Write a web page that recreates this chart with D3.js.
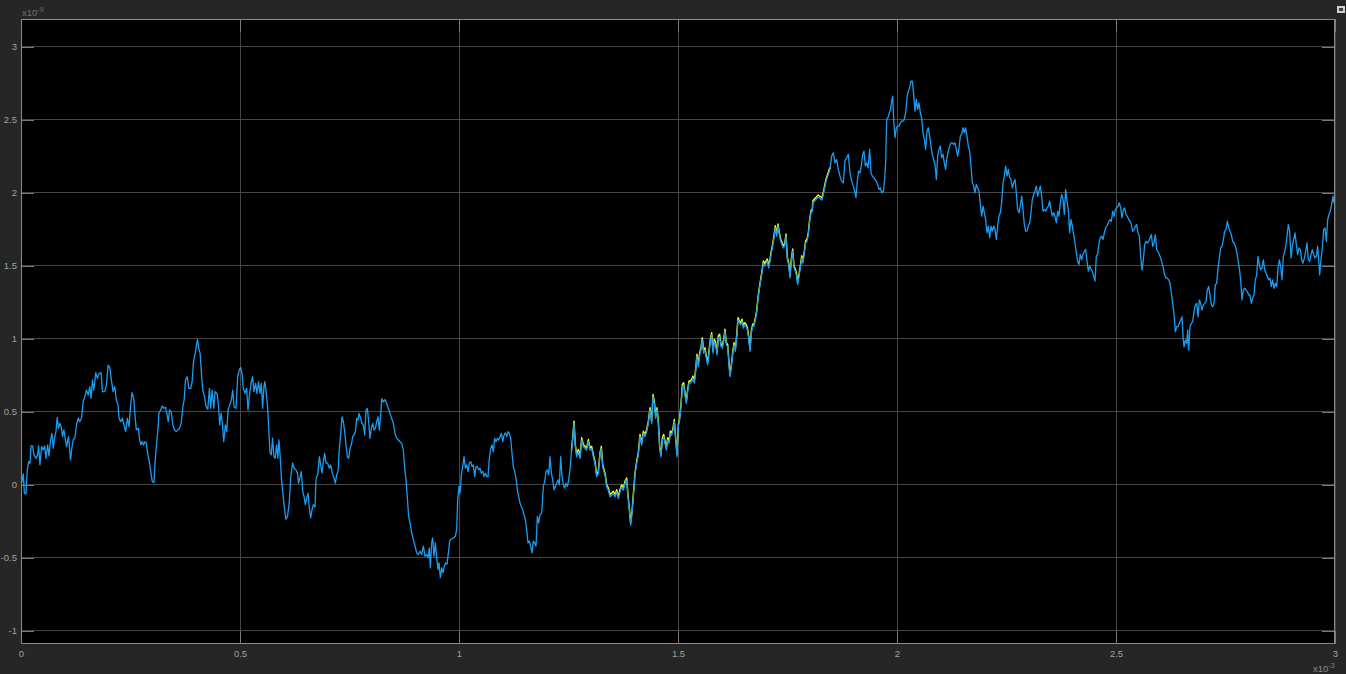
<!DOCTYPE html>
<html><head><meta charset="utf-8">
<script src="https://cdn.jsdelivr.net/npm/d3@7"></script>
<style>html,body{margin:0;padding:0;background:#262626;overflow:hidden}svg{display:block}</style>
</head><body><svg id="c" width="1346" height="674"></svg>
<script>
// time in units of 1e-3, value in units of 1e-9
const xTicks = [0, 0.5, 1, 1.5, 2, 2.5, 3];
const xTickLabels = ["0", "0.5", "1", "1.5", "2", "2.5", "3"];
const yTicks = [-1, -0.5, 0, 0.5, 1, 1.5, 2, 2.5, 3];
const yTickLabels = ["-1", "-0.5", "0", "0.5", "1", "1.5", "2", "2.5", "3"];
const xExponent = "-3";
const yExponent = "-9";

const blueSeries = [
[0,0.03],[0.0015,0.011],[0.0053,0.075],[0.0076,-0.057],[0.0114,-0.062],[0.0144,0.103],[0.0175,0.159],[0.0205,0.148],[0.0228,0.267],[0.0266,0.267],[0.0296,0.205],[0.0341,0.182],[0.0379,0.205],[0.0402,0.267],[0.0432,0.137],[0.0470,0.262],[0.0508,0.239],[0.0539,0.267],[0.0569,0.182],[0.0607,0.273],[0.0637,0.198],[0.0675,0.308],[0.0706,0.353],[0.0736,0.251],[0.0766,0.319],[0.0797,0.364],[0.0827,0.462],[0.0857,0.387],[0.0888,0.421],[0.0918,0.399],[0.0948,0.330],[0.0979,0.376],[0.1009,0.319],[0.1039,0.262],[0.1085,0.330],[0.1131,0.171],[0.1161,0.251],[0.1191,0.308],[0.1229,0.319],[0.1267,0.410],[0.1305,0.456],[0.1343,0.433],[0.1381,0.456],[0.1419,0.569],[0.1457,0.604],[0.1495,0.649],[0.1533,0.615],[0.1571,0.672],[0.1601,0.592],[0.1631,0.718],[0.1662,0.649],[0.1707,0.768],[0.1745,0.729],[0.1783,0.763],[0.1829,0.768],[0.1859,0.638],[0.1912,0.638],[0.1950,0.683],[0.1988,0.820],[0.2026,0.804],[0.2064,0.718],[0.2102,0.638],[0.2140,0.672],[0.2178,0.581],[0.2215,0.547],[0.2238,0.456],[0.2276,0.433],[0.2314,0.456],[0.2352,0.410],[0.2390,0.364],[0.2428,0.456],[0.2466,0.399],[0.2504,0.547],[0.2534,0.631],[0.2572,0.592],[0.2602,0.478],[0.2633,0.376],[0.2678,0.387],[0.2709,0.308],[0.2739,0.273],[0.2769,0.296],[0.2800,0.273],[0.2830,0.296],[0.2860,0.285],[0.2898,0.205],[0.2936,0.148],[0.2967,0.080],[0.2997,0.023],[0.3035,0.016],[0.3065,0.171],[0.3096,0.285],[0.3126,0.376],[0.3149,0.490],[0.3187,0.513],[0.3225,0.540],[0.3263,0.524],[0.3301,0.531],[0.3331,0.490],[0.3361,0.433],[0.3392,0.513],[0.3429,0.501],[0.3467,0.410],[0.3505,0.376],[0.3543,0.364],[0.3581,0.376],[0.3619,0.387],[0.3657,0.421],[0.3695,0.535],[0.3725,0.581],[0.3756,0.718],[0.3794,0.740],[0.3832,0.661],[0.3877,0.661],[0.3907,0.706],[0.3938,0.843],[0.3976,0.900],[0.4014,0.968],[0.4029,0.995],[0.4059,0.934],[0.4090,0.900],[0.4120,0.763],[0.4150,0.649],[0.4188,0.604],[0.4226,0.535],[0.4264,0.517],[0.4302,0.661],[0.4332,0.524],[0.4363,0.649],[0.4401,0.524],[0.4431,0.638],[0.4477,0.626],[0.4507,0.547],[0.4537,0.410],[0.4568,0.490],[0.4598,0.421],[0.4628,0.296],[0.4666,0.410],[0.4697,0.364],[0.4727,0.513],[0.4765,0.547],[0.4803,0.581],[0.4833,0.649],[0.4863,0.535],[0.4909,0.524],[0.4947,0.740],[0.4985,0.786],[0.5015,0.804],[0.5046,0.763],[0.5076,0.661],[0.5114,0.626],[0.5152,0.661],[0.5182,0.513],[0.5213,0.604],[0.5250,0.695],[0.5288,0.740],[0.5319,0.638],[0.5357,0.695],[0.5387,0.626],[0.5425,0.706],[0.5455,0.626],[0.5486,0.695],[0.5516,0.524],[0.5546,0.672],[0.5569,0.706],[0.5599,0.626],[0.5630,0.535],[0.5653,0.399],[0.5683,0.228],[0.5713,0.205],[0.5744,0.319],[0.5774,0.194],[0.5804,0.182],[0.5835,0.273],[0.5865,0.182],[0.5888,0.308],[0.5918,0.194],[0.5948,0.034],[0.5979,-0.057],[0.6009,-0.148],[0.6047,-0.235],[0.6085,-0.216],[0.6123,-0.125],[0.6161,0.057],[0.6199,0.148],[0.6237,0.114],[0.6275,0.103],[0.6313,0.080],[0.6335,0.011],
[0.6401,0.091],[0.6431,-0.045],[0.6462,-0.080],[0.6492,-0.136],[0.6522,-0.091],[0.6553,-0.057],[0.6583,-0.159],[0.6614,-0.227],[0.6644,-0.170],[0.6675,-0.136],[0.6713,-0.152],[0.6736,0.045],[0.6774,0.068],[0.6812,0.193],[0.6842,0.136],[0.6873,0.080],[0.6903,0.159],[0.6933,0.216],[0.6964,0.148],[0.7002,0.148],[0.7040,0.114],[0.7070,0.136],[0.7108,0.080],[0.7147,0.045],[0.7177,0.011],[0.7207,0.068],[0.7238,0.091],[0.7268,0.250],[0.7299,0.352],[0.7329,0.466],[0.7360,0.432],[0.7390,0.364],[0.7420,0.273],[0.7451,0.193],[0.7481,0.182],[0.7512,0.250],[0.7542,0.273],[0.7573,0.330],[0.7603,0.341],[0.7634,0.364],[0.7664,0.455],[0.7694,0.443],[0.7717,0.489],[0.7755,0.455],[0.7786,0.420],[0.7816,0.409],[0.7847,0.341],[0.7877,0.511],[0.7908,0.523],[0.7938,0.432],[0.7968,0.318],[0.7999,0.386],[0.8029,0.420],[0.8060,0.375],[0.8090,0.386],[0.8121,0.432],[0.8151,0.466],[0.8181,0.375],[0.8212,0.477],[0.8235,0.591],[0.8273,0.568],[0.8311,0.584],[0.8349,0.557],[0.8387,0.523],[0.8425,0.489],[0.8463,0.455],[0.8501,0.420],[0.8539,0.352],[0.8577,0.318],[0.8615,0.307],[0.8653,0.295],[0.8691,0.284],[0.8729,0.239],[0.8760,0.114],[0.8790,0.034],[0.8821,-0.091],[0.8851,-0.216],[0.8882,-0.261],[0.8920,-0.330],[0.8958,-0.375],[0.8996,-0.420],[0.9034,-0.466],[0.9072,-0.477],[0.9110,-0.455],[0.9148,-0.477],[0.9186,-0.420],[0.9224,-0.489],[0.9262,-0.477],[0.9293,-0.500],[0.9323,-0.432],[0.9346,-0.568],[0.9376,-0.398],[0.9399,-0.364],[0.9430,-0.489],[0.9460,-0.398],[0.9491,-0.500],[0.9521,-0.580],[0.9544,-0.534],[0.9574,-0.636],[0.9605,-0.568],[0.9635,-0.602],[0.9666,-0.557],[0.9696,-0.534],[0.9726,-0.545],[0.9757,-0.466],[0.9787,-0.386],[0.9825,-0.370],[0.9871,-0.364],[0.9917,-0.352],[0.9947,-0.307],[0.9970,-0.102],[1.0000,-0.011],[1.0023,-0.057],[1.0054,0.068],[1.0084,0.125],[1.0115,0.193],[1.0145,0.114],[1.0175,0.136],[1.0206,0.091],[1.0236,0.148],[1.0267,0.159],[1.0297,0.125],[1.0328,0.136],[1.0358,0.057],[1.0388,0.125],[1.0419,0.125],[1.0449,0.102],[1.0480,0.114],[1.0510,0.080],[1.0541,0.091],[1.0571,0.057],[1.0602,0.080],[1.0632,0.057],[1.0662,0.057],[1.0693,0.182],[1.0723,0.250],[1.0754,0.273],[1.0784,0.227],[1.0815,0.318],[1.0845,0.295],[1.0875,0.318],[1.0906,0.307],[1.0936,0.330],[1.0967,0.352],[1.0997,0.295],[1.1028,0.341],[1.1058,0.357],[1.1089,0.330],[1.1119,0.364],[1.1149,0.352],[1.1180,0.318],[1.1210,0.216],[1.1241,0.125],[1.1271,0.091],[1.1302,0.045],[1.1332,-0.034],[1.1362,-0.080],[1.1393,-0.125],[1.1423,-0.148],[1.1454,-0.170],[1.1484,-0.205],[1.1515,-0.239],[1.1545,-0.307],[1.1576,-0.398],[1.1606,-0.386],[1.1636,-0.420],[1.1667,-0.466],[1.1697,-0.386],[1.1728,-0.398],[1.1758,-0.420],[1.1789,-0.216],[1.1819,-0.261],[1.1850,-0.205],[1.1888,-0.193],[1.1926,-0.011],[1.1956,0.023],[1.1987,0.091],[1.2017,0.102],[1.2048,0.068],[1.2078,0.193],[1.2109,0.080],[1.2139,0.034],[1.2169,-0.034],[1.2200,-0.011],[1.2230,0.011],[1.2261,0.034],[1.2291,0.000],[1.2322,0.193],[1.2352,0.057],[1.2382,0.000],[1.2413,-0.023],[1.2443,0.011],[1.2474,-0.011],[1.2504,0.034],[1.2535,0.102],
[1.2565,0.215],[1.2595,0.307],[1.2626,0.421],[1.2656,0.261],[1.2687,0.192],[1.2725,0.227],[1.2763,0.181],[1.2801,0.307],[1.2839,0.261],[1.2877,0.249],[1.2915,0.238],[1.2953,0.295],[1.2991,0.238],[1.3029,0.249],[1.3067,0.192],[1.3105,0.146],[1.3143,0.055],[1.3181,0.078],[1.3219,0.204],[1.3250,0.249],[1.3280,0.124],[1.3311,0.089],[1.3341,0.055],[1.3372,-0.014],[1.3410,-0.037],[1.3448,-0.082],[1.3486,-0.071],[1.3524,-0.059],[1.3562,-0.082],[1.3600,-0.048],[1.3638,-0.094],[1.3676,-0.048],[1.3714,-0.014],[1.3752,-0.037],[1.3790,0.009],[1.3828,0.032],[1.3858,-0.082],[1.3889,-0.174],[1.3919,-0.277],[1.3950,-0.197],[1.3980,-0.082],[1.4018,0.066],[1.4056,0.146],[1.4094,0.204],[1.4132,0.330],[1.4170,0.272],[1.4208,0.352],[1.4247,0.330],[1.4285,0.364],[1.4323,0.421],[1.4361,0.513],[1.4399,0.421],[1.4429,0.604],[1.4460,0.558],[1.4490,0.455],[1.4521,0.513],[1.4551,0.421],[1.4582,0.249],[1.4612,0.192],[1.4642,0.307],[1.4673,0.330],[1.4703,0.284],[1.4734,0.238],[1.4764,0.307],[1.4795,0.284],[1.4825,0.352],[1.4855,0.341],[1.4886,0.375],[1.4916,0.432],[1.4947,0.307],[1.4977,0.192],[1.5008,0.398],[1.5038,0.444],[1.5068,0.535],[1.5099,0.673],[1.5129,0.684],[1.5160,0.616],[1.5190,0.558],[1.5221,0.638],[1.5251,0.696],[1.5282,0.696],[1.5312,0.707],[1.5342,0.730],[1.5373,0.696],[1.5403,0.776],[1.5434,0.879],[1.5464,0.810],[1.5495,0.890],[1.5525,0.924],[1.5555,0.993],[1.5586,0.902],[1.5616,0.924],[1.5647,0.867],[1.5677,0.822],[1.5708,0.902],[1.5738,0.982],[1.5769,1.027],[1.5799,0.902],[1.5829,0.982],[1.5860,0.959],[1.5890,0.890],[1.5921,1.005],[1.5951,1.016],[1.5982,0.947],[1.6012,0.936],[1.6043,0.982],[1.6073,1.050],[1.6103,0.959],[1.6134,0.947],[1.6164,0.822],[1.6187,0.741],[1.6218,0.810],[1.6248,0.890],[1.6279,0.959],[1.6309,0.913],[1.6339,1.005],[1.6370,1.130],[1.6400,1.108],[1.6431,1.096],[1.6461,1.119],[1.6492,1.073],[1.6522,1.096],[1.6553,1.085],[1.6583,1.062],[1.6613,1.005],[1.6644,0.913],[1.6674,1.039],[1.6705,1.085],[1.6735,1.085],[1.6766,1.130],[1.6796,1.176],[1.6826,1.268],[1.6857,1.336],[1.6887,1.394],[1.6918,1.451],[1.6948,1.519],[1.6979,1.497],[1.7009,1.519],[1.7040,1.531],[1.7070,1.485],[1.7100,1.531],[1.7131,1.588],[1.7161,1.634],[1.7192,1.691],[1.7222,1.760],[1.7253,1.703],[1.7283,1.771],[1.7313,1.714],[1.7344,1.668],[1.7374,1.645],[1.7405,1.622],[1.7435,1.634],[1.7466,1.703],[1.7496,1.542],[1.7527,1.508],[1.7557,1.416],[1.7587,1.531],[1.7618,1.600],[1.7648,1.485],[1.7679,1.462],[1.7709,1.428],[1.7732,1.371],[1.7763,1.428],[1.7793,1.485],[1.7824,1.554],[1.7854,1.519],[1.7885,1.588],[1.7915,1.657],[1.7945,1.668],[1.7976,1.714],[1.8006,1.805],[1.8037,1.863],[1.8067,1.874],[1.8080,1.930],[1.8200,1.970],[1.8290,1.950],[1.8380,2.080],
[1.8470,2.160],[1.8508,2.251],[1.8546,2.274],[1.8584,2.205],[1.8622,2.228],[1.8660,2.160],[1.8698,2.114],[1.8736,2.080],[1.8774,2.068],[1.8812,2.217],[1.8851,2.240],[1.8889,2.263],[1.8927,2.137],[1.8965,2.080],[1.9003,2.046],[1.9041,2.000],[1.9064,1.966],[1.9094,2.080],[1.9124,2.148],[1.9155,2.137],[1.9185,2.183],[1.9216,2.263],[1.9246,2.285],[1.9277,2.183],[1.9307,2.205],[1.9338,2.171],[1.9376,2.297],[1.9406,2.137],[1.9437,2.114],[1.9467,2.103],[1.9497,2.091],[1.9528,2.080],[1.9558,2.057],[1.9589,2.023],[1.9619,2.034],[1.9650,2.000],[1.9688,2.011],[1.9718,2.091],[1.9741,2.205],[1.9764,2.502],[1.9794,2.514],[1.9825,2.548],[1.9855,2.571],[1.9878,2.628],[1.9901,2.662],[1.9924,2.502],[1.9954,2.377],[1.9985,2.445],[2.0015,2.457],[2.0046,2.457],[2.0076,2.479],[2.0106,2.491],[2.0137,2.491],[2.0167,2.502],[2.0198,2.548],[2.0228,2.651],[2.0259,2.696],[2.0289,2.719],[2.0319,2.765],[2.0350,2.765],[2.0380,2.674],[2.0411,2.559],[2.0441,2.639],[2.0472,2.571],[2.0502,2.616],[2.0532,2.548],[2.0563,2.514],[2.0593,2.411],[2.0624,2.365],[2.0654,2.297],[2.0685,2.422],[2.0715,2.445],[2.0746,2.388],[2.0776,2.320],[2.0806,2.263],[2.0837,2.228],[2.0867,2.194],[2.0898,2.091],[2.0928,2.251],[2.0959,2.297],[2.0989,2.320],[2.1019,2.240],[2.1050,2.263],[2.1080,2.205],[2.1111,2.160],[2.1141,2.240],[2.1172,2.285],[2.1202,2.320],[2.1233,2.342],[2.1263,2.342],[2.1293,2.331],[2.1324,2.342],[2.1354,2.297],[2.1385,2.251],[2.1415,2.308],[2.1446,2.388],[2.1476,2.400],[2.1507,2.445],[2.1537,2.411],[2.1567,2.445],[2.1598,2.388],[2.1628,2.320],[2.1659,2.285],[2.1689,2.183],[2.1720,2.068],[2.1750,2.046],[2.1781,2.000],[2.1811,2.057],[2.1841,2.034],[2.1872,2.011],[2.1902,1.920],[2.1933,1.840],[2.1963,1.909],[2.1994,1.863],[2.2024,1.817],[2.2055,1.726],[2.2085,1.772],[2.2115,1.692],[2.2146,1.772],[2.2176,1.737],[2.2207,1.772],[2.2237,1.749],[2.2268,1.680],[2.2298,1.772],[2.2328,1.840],[2.2359,1.863],[2.2389,1.932],[2.2420,2.068],[2.2450,2.114],[2.2481,2.183],[2.2511,2.114],[2.2542,2.160],[2.2572,2.103],[2.2602,2.091],[2.2633,2.034],[2.2663,2.068],[2.2694,2.091],[2.2724,2.000],[2.2755,1.886],[2.2785,1.863],[2.2815,1.909],[2.2846,1.977],[2.2876,1.886],[2.2907,1.783],[2.2937,1.737],[2.2968,1.737],[2.2998,1.772],[2.3029,1.795],[2.3059,1.863],[2.3089,1.954],[2.3120,1.989],[2.3150,2.011],[2.3181,2.046],[2.3211,1.977],[2.3242,2.011],[2.3272,2.046],[2.3303,1.977],[2.3333,1.874],[2.3363,1.886],[2.3394,1.874],[2.3424,1.897],[2.3455,1.909],[2.3485,1.943],[2.3516,1.886],[2.3546,1.840],[2.3577,1.863],[2.3607,1.840],[2.3637,1.795],[2.3668,1.874],[2.3698,1.840],[2.3729,1.932],[2.3759,1.989],[2.3790,1.954],[2.3820,1.852],[2.3850,2.023],[2.3881,1.943],[2.3911,1.886],[2.3942,1.726],[2.3972,1.817],[2.4003,1.772],[2.4033,1.715],[2.4064,1.658],[2.4094,1.589],[2.4124,1.532],[2.4155,1.509],[2.4185,1.578],[2.4216,1.543],[2.4246,1.578],[2.4277,1.600],[2.4307,1.612],[2.4338,1.532],[2.4368,1.463],[2.4398,1.498],[2.4429,1.475],[2.4459,1.463],[2.4490,1.429],[2.4520,1.395],[2.4551,1.566],[2.4581,1.578],[2.4612,1.658],[2.4642,1.692],[2.4672,1.703],[2.4703,1.680],[2.4733,1.726],[2.4764,1.760],[2.4794,1.772],[2.4825,1.795],[2.4863,1.817],
[2.4894,1.805],[2.4924,1.874],[2.4955,1.839],[2.4985,1.885],[2.5015,1.897],[2.5046,1.908],[2.5076,1.931],[2.5107,1.897],[2.5137,1.828],[2.5168,1.885],[2.5198,1.897],[2.5229,1.851],[2.5259,1.839],[2.5289,1.817],[2.5320,1.805],[2.5350,1.782],[2.5381,1.736],[2.5411,1.748],[2.5442,1.771],[2.5472,1.782],[2.5503,1.725],[2.5533,1.702],[2.5563,1.564],[2.5594,1.472],[2.5624,1.541],[2.5655,1.644],[2.5685,1.667],[2.5716,1.656],[2.5746,1.667],[2.5777,1.690],[2.5807,1.713],[2.5837,1.633],[2.5868,1.656],[2.5898,1.713],[2.5929,1.610],[2.5959,1.599],[2.5990,1.576],[2.6020,1.553],[2.6051,1.518],[2.6081,1.484],[2.6111,1.438],[2.6142,1.415],[2.6172,1.415],[2.6203,1.404],[2.6233,1.381],[2.6264,1.312],[2.6294,1.243],[2.6324,1.174],[2.6355,1.048],[2.6385,1.083],[2.6416,1.083],[2.6446,1.106],[2.6477,1.128],[2.6507,1.151],[2.6530,1.014],[2.6553,0.945],[2.6583,0.991],[2.6614,0.968],[2.6637,1.060],[2.6659,0.922],[2.6690,1.083],[2.6720,1.106],[2.6751,1.117],[2.6781,1.186],[2.6811,1.232],[2.6842,1.243],[2.6872,1.151],[2.6903,1.266],[2.6933,1.243],[2.6964,1.197],[2.6994,1.232],[2.7025,1.243],[2.7055,1.255],[2.7085,1.335],[2.7116,1.358],[2.7146,1.300],[2.7177,1.232],[2.7207,1.220],[2.7238,1.243],[2.7268,1.369],[2.7299,1.381],[2.7329,1.484],[2.7359,1.553],[2.7390,1.622],[2.7420,1.633],[2.7451,1.679],[2.7481,1.736],[2.7511,1.748],[2.7542,1.805],[2.7572,1.759],[2.7603,1.736],[2.7633,1.713],[2.7664,1.667],[2.7694,1.656],[2.7725,1.633],[2.7755,1.599],[2.7785,1.541],[2.7816,1.484],[2.7846,1.404],[2.7877,1.266],[2.7907,1.335],[2.7938,1.346],[2.7968,1.335],[2.7999,1.323],[2.8029,1.300],[2.8059,1.300],[2.8090,1.243],[2.8120,1.278],[2.8151,1.300],[2.8181,1.404],[2.8212,1.438],[2.8242,1.564],[2.8272,1.507],[2.8303,1.472],[2.8333,1.484],[2.8364,1.541],[2.8394,1.472],[2.8425,1.450],[2.8455,1.427],[2.8486,1.404],[2.8516,1.415],[2.8546,1.358],[2.8577,1.404],[2.8607,1.346],[2.8638,1.381],[2.8668,1.358],[2.8699,1.484],[2.8729,1.541],[2.8760,1.495],[2.8790,1.404],[2.8820,1.564],[2.8851,1.599],[2.8881,1.644],[2.8912,1.725],[2.8935,1.782],[2.8965,1.736],[2.8996,1.553],[2.9026,1.633],[2.9056,1.679],[2.9087,1.725],[2.9117,1.644],[2.9148,1.576],[2.9178,1.622],[2.9209,1.610],[2.9239,1.541],[2.9269,1.518],[2.9300,1.553],[2.9330,1.599],[2.9361,1.656],[2.9391,1.541],[2.9422,1.530],[2.9452,1.576],[2.9483,1.610],[2.9513,1.576],[2.9543,1.553],[2.9574,1.564],[2.9604,1.633],[2.9635,1.507],[2.9650,1.438],[2.9680,1.541],[2.9711,1.622],[2.9741,1.748],[2.9772,1.759],[2.9802,1.667],[2.9833,1.817],[2.9863,1.851],[2.9893,1.874],[2.9924,1.920],[2.9954,1.977],[2.9977,1.931],[3.0,1.950]
];

const yellowSeries = [
[1.2565,0.230],[1.2595,0.322],[1.2626,0.436],[1.2656,0.276],[1.2687,0.207],[1.2725,0.242],[1.2763,0.196],[1.2801,0.322],[1.2839,0.276],[1.2877,0.264],[1.2915,0.253],[1.2953,0.310],[1.2991,0.253],[1.3029,0.264],[1.3067,0.207],[1.3105,0.161],[1.3143,0.070],[1.3181,0.093],[1.3219,0.219],[1.3250,0.264],[1.3280,0.139],[1.3311,0.104],[1.3341,0.070],[1.3372,0.001],[1.3410,-0.022],[1.3448,-0.067],[1.3486,-0.056],[1.3524,-0.044],[1.3562,-0.067],[1.3600,-0.033],[1.3638,-0.079],[1.3676,-0.033],[1.3714,0.001],[1.3752,-0.022],[1.3790,0.024],[1.3828,0.047],[1.3858,-0.067],[1.3889,-0.159],[1.3919,-0.262],[1.3950,-0.182],[1.3980,-0.067],[1.4018,0.081],[1.4056,0.161],[1.4094,0.219],[1.4132,0.345],[1.4170,0.287],[1.4208,0.367],[1.4247,0.345],[1.4285,0.379],[1.4323,0.436],[1.4361,0.528],[1.4399,0.436],[1.4429,0.619],[1.4460,0.573],[1.4490,0.470],[1.4521,0.528],[1.4551,0.436],[1.4582,0.264],[1.4612,0.207],[1.4642,0.322],[1.4673,0.345],[1.4703,0.299],[1.4734,0.253],[1.4764,0.322],[1.4795,0.299],[1.4825,0.367],[1.4855,0.356],[1.4886,0.390],[1.4916,0.447],[1.4947,0.322],[1.4977,0.207],[1.5008,0.413],[1.5038,0.459],[1.5068,0.550],[1.5099,0.688],[1.5129,0.699],[1.5160,0.631],[1.5190,0.573],[1.5221,0.653],[1.5251,0.711],[1.5282,0.711],[1.5312,0.722],[1.5342,0.745],[1.5373,0.711],[1.5403,0.791],[1.5434,0.894],[1.5464,0.825],[1.5495,0.905],[1.5525,0.939],[1.5555,1.008],[1.5586,0.917],[1.5616,0.939],[1.5647,0.882],[1.5677,0.837],[1.5708,0.917],[1.5738,0.997],[1.5769,1.042],[1.5799,0.917],[1.5829,0.997],[1.5860,0.974],[1.5890,0.905],[1.5921,1.020],[1.5951,1.031],[1.5982,0.962],[1.6012,0.951],[1.6043,0.997],[1.6073,1.065],[1.6103,0.974],[1.6134,0.962],[1.6164,0.837],[1.6187,0.756],[1.6218,0.825],[1.6248,0.905],[1.6279,0.974],[1.6309,0.928],[1.6339,1.020],[1.6370,1.145],[1.6400,1.123],[1.6431,1.111],[1.6461,1.134],[1.6492,1.088],[1.6522,1.111],[1.6553,1.100],[1.6583,1.077],[1.6613,1.020],[1.6644,0.928],[1.6674,1.054],[1.6705,1.100],[1.6735,1.100],[1.6766,1.145],[1.6796,1.191],[1.6826,1.283],[1.6857,1.351],[1.6887,1.409],[1.6918,1.466],[1.6948,1.534],[1.6979,1.512],[1.7009,1.534],[1.7040,1.546],[1.7070,1.500],[1.7100,1.546],[1.7131,1.603],[1.7161,1.649],[1.7192,1.706],[1.7222,1.775],[1.7253,1.718],[1.7283,1.786],[1.7313,1.729],[1.7344,1.683],[1.7374,1.660],[1.7405,1.637],[1.7435,1.649],[1.7466,1.718],[1.7496,1.557],[1.7527,1.523],[1.7557,1.431],[1.7587,1.546],[1.7618,1.615],[1.7648,1.500],[1.7679,1.477],[1.7709,1.443],[1.7732,1.386],[1.7763,1.443],[1.7793,1.500],[1.7824,1.569],[1.7854,1.534],[1.7885,1.603],[1.7915,1.672],[1.7945,1.683],[1.7976,1.729],[1.8006,1.820],[1.8037,1.878],[1.8067,1.889],[1.8080,1.945],[1.8200,1.985],[1.8290,1.965],[1.8380,2.095],[1.8470,2.175]
];

const W = 1346, H = 674;
const plot = {left: 21, right: 1335, top: 19, bottom: 644};
const svg = d3.select("#c");
const x = d3.scaleLinear().domain([0, 3]).range([plot.left, plot.right]);
const y = d3.scaleLinear().domain([-1.09, 3.19]).range([plot.bottom, plot.top]);
const font = "'Liberation Sans', Arial, sans-serif";

svg.append("rect").attr("x",0).attr("y",0).attr("width",W).attr("height",H).attr("fill","#262626");
svg.append("rect").attr("x",plot.left).attr("y",plot.top)
  .attr("width",plot.right-plot.left).attr("height",plot.bottom-plot.top).attr("fill","#000");

// grid
const grid = svg.append("g").attr("stroke","#464646").attr("stroke-width",1).attr("shape-rendering","crispEdges");
xTicks.forEach(t => grid.append("line").attr("x1",x(t)).attr("x2",x(t)).attr("y1",plot.top).attr("y2",plot.bottom));
yTicks.forEach(v => grid.append("line").attr("y1",y(v)).attr("y2",y(v)).attr("x1",plot.left).attr("x2",plot.right));

// clip
svg.append("defs").append("clipPath").attr("id","clip").append("rect")
  .attr("x",plot.left).attr("y",plot.top).attr("width",plot.right-plot.left).attr("height",plot.bottom-plot.top);

const line = d3.line().x(d => x(d[0])).y(d => y(d[1]));
const lines = svg.append("g").attr("clip-path","url(#clip)");
lines.append("path").datum(yellowSeries).attr("d",line).attr("fill","none")
  .attr("stroke","#ffff11").attr("stroke-width",1.4).attr("stroke-linejoin","round");
lines.append("path").datum(blueSeries).attr("d",line).attr("fill","none")
  .attr("stroke","#1a9cf0").attr("stroke-width",1.3).attr("stroke-linejoin","round");

// axes (ticks inward)
const tickLen = 13;
const fg = "#8a8a8a";
const ax = svg.append("g");
ax.append("g").attr("transform",`translate(0,${plot.bottom})`)
  .call(d3.axisBottom(x).tickValues(xTicks).tickFormat((d,i)=>xTickLabels[i]).tickSizeInner(-tickLen).tickSizeOuter(0).tickPadding(6));
ax.append("g").attr("transform",`translate(0,${plot.top})`)
  .call(d3.axisTop(x).tickValues(xTicks).tickFormat("").tickSizeInner(-tickLen).tickSizeOuter(0));
ax.append("g").attr("transform",`translate(${plot.left},0)`)
  .call(d3.axisLeft(y).tickValues(yTicks).tickFormat((d,i)=>yTickLabels[i]).tickSizeInner(-tickLen).tickSizeOuter(0).tickPadding(4));
ax.append("g").attr("transform",`translate(${plot.right},0)`)
  .call(d3.axisRight(y).tickValues(yTicks).tickFormat("").tickSizeInner(-tickLen).tickSizeOuter(0));
ax.selectAll(".domain").remove();
ax.selectAll(".tick line").attr("stroke","#7a7a7a").attr("shape-rendering","crispEdges");
ax.selectAll(".tick text").attr("fill","#a0a0a0").attr("font-family",font).attr("font-size","9.5px");

// axes box
svg.append("rect").attr("x",plot.left+0.5).attr("y",plot.top+0.5)
  .attr("width",plot.right-plot.left-1).attr("height",plot.bottom-plot.top-1)
  .attr("fill","none").attr("stroke",fg).attr("stroke-width",1).attr("shape-rendering","crispEdges");

// exponent labels
const ex = svg.append("text").attr("x",plot.left+1).attr("y",16).attr("fill","#707070")
  .attr("font-family",font).attr("font-size","9.5px");
ex.append("tspan").text("x10");
ex.append("tspan").attr("dy",-4).attr("font-size","7px").text(yExponent);
const ex2 = svg.append("text").attr("x",plot.right-22).attr("y",672).attr("fill","#8a8a8a")
  .attr("font-family",font).attr("font-size","9.5px");
ex2.append("tspan").text("x10");
ex2.append("tspan").attr("dy",-4).attr("font-size","7px").text(xExponent);

// small undock icon top-right
svg.append("rect").attr("x",1337).attr("y",6).attr("width",8).attr("height",7).attr("fill","#d0d0d0");
svg.append("rect").attr("x",1339).attr("y",8).attr("width",4).attr("height",3).attr("fill","#404040");
</script>
</body></html>
